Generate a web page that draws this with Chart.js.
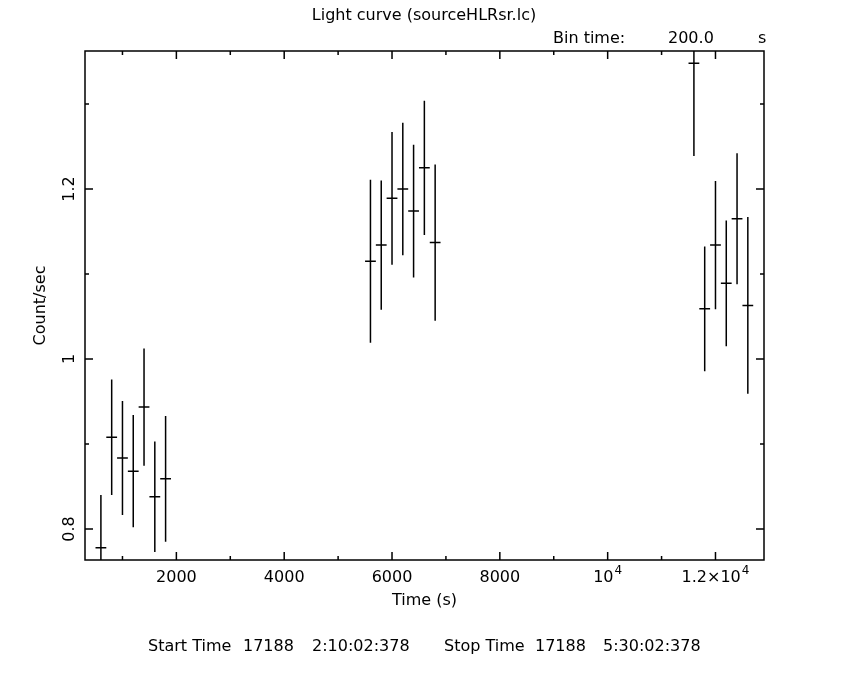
<!DOCTYPE html>
<html>
<head>
<meta charset="utf-8">
<script src="https://cdn.jsdelivr.net/npm/chart.js@4"></script>
<style>
  body { margin: 0; background: #fff; }
  #wrap { width: 850px; height: 680px; }
</style>
</head>
<body>
<div id="wrap"><canvas id="lc" width="850" height="680"></canvas></div>
<script>
// light curve bins (200 s each)
const times = [600, 800, 1000, 1200, 1400, 1600, 1800,
               5600, 5800, 6000, 6200, 6400, 6600, 6800,
               11600, 11800, 12000, 12200, 12400, 12600];
const rates = [0.778, 0.908, 0.8835, 0.868, 0.9435, 0.838, 0.859,
               1.115, 1.134, 1.189, 1.200, 1.174, 1.225, 1.137,
               1.348, 1.059, 1.134, 1.089, 1.165, 1.063];
const errors = [0.062, 0.068, 0.067, 0.066, 0.069, 0.065, 0.074,
                0.096, 0.076, 0.078, 0.078, 0.078, 0.079, 0.092,
                0.109, 0.0735, 0.0755, 0.074, 0.077, 0.104];
const binTime = 200;

const xMajor = [2000, 4000, 6000, 8000, 10000, 12000];
const xMajorLabels = [['2000'], ['4000'], ['6000'], ['8000'], ['10', '4'], ['1.2\u00d710', '4']];
const xMinor = [1000, 3000, 5000, 7000, 9000, 11000];
const yMajor = [0.8, 1.0, 1.2];
const yMajorLabels = ['0.8', '1', '1.2'];
const yMinor = [0.9, 1.1, 1.3];

const FONT = '"DejaVu Sans", sans-serif';

const errorBars = {
    id: 'errorBars',
    afterDatasetsDraw(chart) {
        const ctx = chart.ctx;
        const xs = chart.scales.x, ys = chart.scales.y;
        const a = chart.chartArea;
        ctx.save();
        ctx.beginPath();
        ctx.rect(a.left, a.top, a.right - a.left, a.bottom - a.top);
        ctx.clip();
        ctx.strokeStyle = '#000';
        ctx.lineWidth = 1.5;
        chart.data.datasets[0].data.forEach((p, i) => {
            const px = xs.getPixelForValue(p.x);
            const py = ys.getPixelForValue(p.y);
            const x0 = xs.getPixelForValue(p.x - binTime / 2);
            const x1 = xs.getPixelForValue(p.x + binTime / 2);
            const yTop = ys.getPixelForValue(p.y + errors[i]);
            const yBot = ys.getPixelForValue(p.y - errors[i]);
            ctx.beginPath();
            ctx.moveTo(px, yTop);
            ctx.lineTo(px, yBot);
            ctx.moveTo(x0, py);
            ctx.lineTo(x1, py);
            ctx.stroke();
        });
        ctx.restore();
    }
};

const frame = {
    id: 'frame',
    afterDraw(chart) {
        const ctx = chart.ctx;
        const xs = chart.scales.x, ys = chart.scales.y;
        const a = chart.chartArea;
        ctx.save();
        ctx.strokeStyle = '#000';
        ctx.fillStyle = '#000';
        ctx.lineWidth = 1.5;
        ctx.strokeRect(a.left, a.top, a.right - a.left, a.bottom - a.top);

        ctx.beginPath();
        const tickX = (v, len) => {
            const px = xs.getPixelForValue(v);
            ctx.moveTo(px, a.bottom); ctx.lineTo(px, a.bottom - len);
            ctx.moveTo(px, a.top); ctx.lineTo(px, a.top + len);
        };
        const tickY = (v, len) => {
            const py = ys.getPixelForValue(v);
            ctx.moveTo(a.left, py); ctx.lineTo(a.left + len, py);
            ctx.moveTo(a.right, py); ctx.lineTo(a.right - len, py);
        };
        xMajor.forEach(v => tickX(v, 8));
        xMinor.forEach(v => tickX(v, 4));
        yMajor.forEach(v => tickY(v, 8));
        yMinor.forEach(v => tickY(v, 4));
        ctx.stroke();

        // x tick labels, with exponent drawn raised
        ctx.textBaseline = 'alphabetic';
        xMajor.forEach((v, i) => {
            const px = xs.getPixelForValue(v);
            const [base, exp] = xMajorLabels[i];
            ctx.font = '16px ' + FONT;
            const wb = ctx.measureText(base).width;
            let we = 0;
            if (exp) { ctx.font = '12px ' + FONT; we = ctx.measureText(exp).width + 1; }
            const start = px - (wb + we) / 2;
            ctx.font = '16px ' + FONT;
            ctx.textAlign = 'left';
            ctx.fillText(base, start, a.bottom + 22);
            if (exp) {
                ctx.font = '12px ' + FONT;
                ctx.fillText(exp, start + wb + 1, a.bottom + 14);
            }
        });

        // y tick labels, rotated
        ctx.font = '16px ' + FONT;
        ctx.textAlign = 'center';
        yMajor.forEach((v, i) => {
            const py = ys.getPixelForValue(v);
            ctx.save();
            ctx.translate(a.left - 11, py);
            ctx.rotate(-Math.PI / 2);
            ctx.fillText(yMajorLabels[i], 0, 0);
            ctx.restore();
        });

        // axis titles
        ctx.fillText('Time (s)', (a.left + a.right) / 2, a.bottom + 45);
        ctx.save();
        ctx.translate(a.left - 40, (a.top + a.bottom) / 2);
        ctx.rotate(-Math.PI / 2);
        ctx.fillText('Count/sec', 0, 0);
        ctx.restore();

        // header and footer
        ctx.fillText('Light curve (sourceHLRsr.lc)', 424, 20);
        ctx.textAlign = 'left';
        ctx.fillText('Bin time:', 553, 43);
        ctx.fillText('200.0', 668, 43);
        ctx.fillText('s', 758, 43);
        ctx.fillText('Start Time', 148, 651);
        ctx.fillText('17188', 243, 651);
        ctx.fillText('2:10:02:378', 312, 651);
        ctx.fillText('Stop Time', 444, 651);
        ctx.fillText('17188', 535, 651);
        ctx.fillText('5:30:02:378', 603, 651);
        ctx.restore();
    }
};

new Chart(document.getElementById('lc'), {
    type: 'scatter',
    data: {
        datasets: [{
            data: times.map((t, i) => ({ x: t, y: rates[i] })),
            pointRadius: 0,
            showLine: false
        }]
    },
    options: {
        responsive: false,
        animation: false,
        layout: { padding: { left: 85, right: 86, top: 51, bottom: 120 } },
        scales: {
            x: { type: 'linear', min: 305, max: 12900, display: false },
            y: { type: 'linear', min: 0.7635, max: 1.3624, display: false }
        },
        plugins: {
            legend: { display: false },
            tooltip: { enabled: false }
        }
    },
    plugins: [errorBars, frame]
});
</script>
</body>
</html>
